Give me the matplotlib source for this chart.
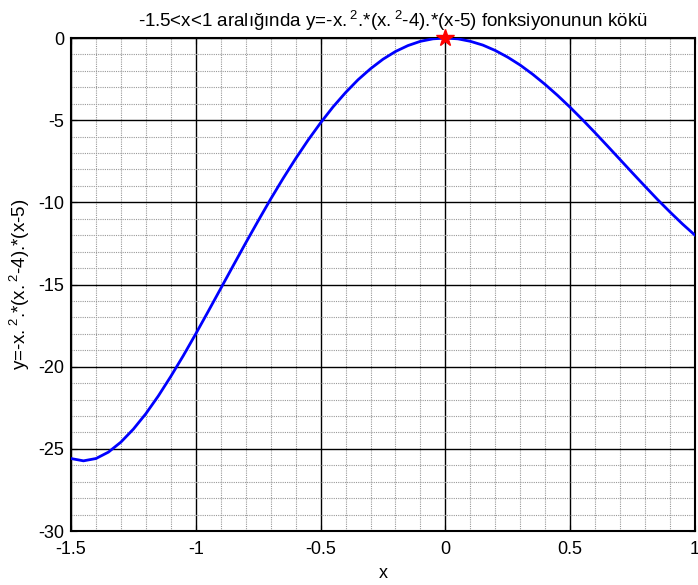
import matplotlib
matplotlib.use('Agg')
import matplotlib.pyplot as plt
from matplotlib.ticker import MultipleLocator

plt.rcParams['font.family'] = ['Liberation Sans', 'DejaVu Sans']
plt.rcParams['mathtext.fontset'] = 'custom'
plt.rcParams['mathtext.rm'] = 'Liberation Sans'
plt.rcParams['mathtext.default'] = 'regular'
plt.rcParams['axes.unicode_minus'] = False

# curve values
x_vals = [-1.5, -1.45, -1.4, -1.35, -1.3, -1.25, -1.2, -1.15, -1.1, -1.05,
          -1.0, -0.95, -0.9, -0.85, -0.8, -0.75, -0.7, -0.65, -0.6, -0.55,
          -0.5, -0.45, -0.4, -0.35, -0.3, -0.25, -0.2, -0.15, -0.1, -0.05,
          0.0, 0.05, 0.1, 0.15, 0.2, 0.25, 0.3, 0.35, 0.4, 0.45,
          0.5, 0.55, 0.6, 0.65, 0.7, 0.75, 0.8, 0.85, 0.9, 0.95, 1.0]
y_vals = [-25.59, -25.73, -25.59, -25.20, -24.59, -23.80, -22.86, -21.78, -20.59, -19.33,
          -18.00, -16.63, -15.24, -13.85, -12.47, -11.12, -9.80, -8.54, -7.34, -6.21,
          -5.16, -4.19, -3.32, -2.54, -1.87, -1.29, -0.82, -0.46, -0.20, -0.05,
          0.0, -0.05, -0.20, -0.43, -0.76, -1.17, -1.65, -2.21, -2.83, -3.50,
          -4.22, -4.98, -5.77, -6.58, -7.40, -8.22, -9.03, -9.83, -10.59, -11.32, -12.00]
root_x = [0.0]
root_y = [0.0]

x_ticks = [-1.5, -1, -0.5, 0, 0.5, 1]
x_ticklabels = ['-1.5', '-1', '-0.5', '0', '0.5', '1']
y_ticks = [-30, -25, -20, -15, -10, -5, 0]

fig = plt.figure(figsize=(6.98, 5.85), dpi=100)
ax = fig.add_axes([0.1017, 0.0923, 0.8940, 0.8427])

ax.plot(x_vals, y_vals, color='#0000ff', lw=2, zorder=3)
ax.plot(root_x, root_y, marker='*', color='red', markersize=13, ls='none',
        zorder=4, clip_on=False)

ax.set_xlim(-1.5, 1)
ax.set_ylim(-30, 0)
ax.set_xticks(x_ticks)
ax.set_xticklabels(x_ticklabels)
ax.set_yticks(y_ticks)
ax.xaxis.set_minor_locator(MultipleLocator(0.1))
ax.yaxis.set_minor_locator(MultipleLocator(1))

ax.grid(which='major', color='black', lw=1.0, ls='-')
ax.grid(which='minor', color='#999999', lw=0.8, ls=(0, (1, 1)))
ax.set_axisbelow(True)

ax.tick_params(which='both', direction='in', top=True, right=True,
               labelsize=13, width=0.8)
ax.tick_params(axis='x', which='major', length=4, pad=7)
ax.tick_params(axis='y', which='major', length=4, pad=5)
ax.tick_params(which='minor', length=0)
for s in ax.spines.values():
    s.set_linewidth(1.5)

sq = r'$\,^{2}$'
ax.set_title('-1.5<x<1 aralığında y=-x.' + sq + '.*(x.' + sq + '-4).*(x-5) fonksiyonunun kökü',
             fontsize=13.5, pad=8, x=0.515)
ax.set_xlabel('x', fontsize=13, labelpad=5)
ax.set_ylabel('y=-x.' + sq + '.*(x.' + sq + '-4).*(x-5)', fontsize=13.5, labelpad=4)

fig.savefig('out.png', dpi=100)
